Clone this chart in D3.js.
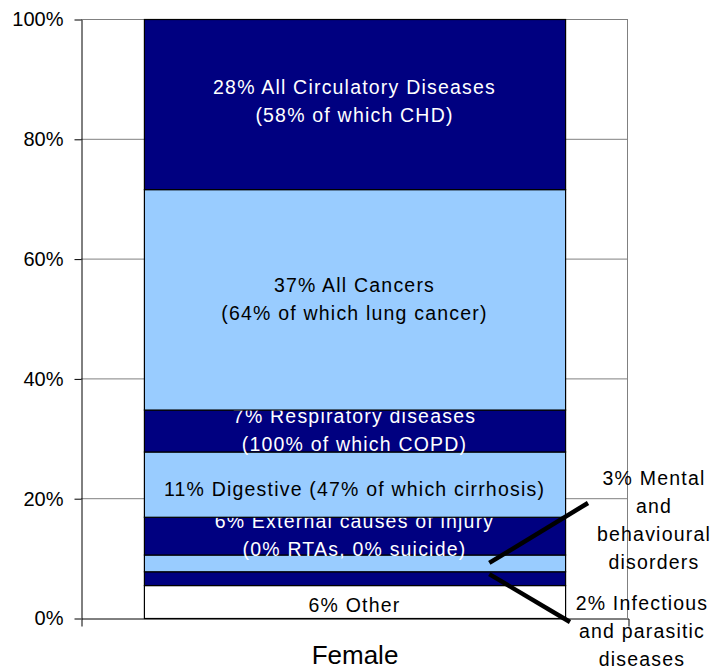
<!DOCTYPE html>
<html>
<head>
<meta charset="utf-8">
<script src="https://cdn.jsdelivr.net/npm/d3@7"></script>
<style>
  body { margin: 0; background: #fff; }
  text { font-family: "Liberation Sans", Arial, sans-serif; }
</style>
</head>
<body>
<script>
const svgWidth = 710
const svgHeight = 670

const margin = { top: 19, right: 82, bottom: 52, left: 81 }
const chartWidth = svgWidth - margin.left - margin.right
const chartHeight = svgHeight - margin.top - margin.bottom

// data, bottom segment first
const categories = ["Female"]
const causes = ["Other", "Infectious", "Mental", "External", "Digestive", "Respiratory", "Cancers", "Circulatory"]
const shares = [5.5, 2.3, 2.8, 6.3, 10.9, 7.0, 36.8, 28.4]
const insideLabels = [
  ["6% Other"],
  [],
  [],
  ["6% External causes of injury", "(0% RTAs, 0% suicide)"],
  ["11% Digestive (47% of which cirrhosis)"],
  ["7% Respiratory diseases", "(100% of which COPD)"],
  ["37% All Cancers", "(64% of which lung cancer)"],
  ["28% All Circulatory Diseases", "(58% of which CHD)"]
]
const mentalLabel = ["3% Mental", "and", "behavioural", "disorders"]
const infectiousLabel = ["2% Infectious", "and parasitic", "diseases"]
const yTicks = [0, 20, 40, 60, 80, 100]

const navy = "#000080"
const light = "#99ccff"
const fills = ["#ffffff", navy, light, navy, light, navy, light, navy]
const textFills = ["#000", "#fff", "#000", "#fff", "#000", "#fff", "#000", "#fff"]
// small vertical nudges of the label blocks, in px
const labelNudge = [3, 0, 0, -1, 5, -1, 0, -3]

const svg = d3.select("body").append("svg")
    .attr("width", svgWidth)
    .attr("height", svgHeight)

const chartG = svg.append("g")
    .attr("transform", `translate(${margin.left}, ${margin.top})`)

const y = d3.scaleLinear()
    .domain([0, 100])
    .range([chartHeight, 0])

const x = d3.scaleBand()
    .domain(categories)
    .range([0, chartWidth])
    .paddingInner(0.23)
    .paddingOuter(0.115)

// gridlines
chartG.append("g")
  .selectAll("line")
  .data(yTicks.filter(d => d > 0))
  .enter()
  .append("line")
    .attr("x1", 0)
    .attr("x2", chartWidth)
    .attr("y1", d => y(d) + 0.5)
    .attr("y2", d => y(d) + 0.5)
    .attr("stroke", "#808080")

chartG.append("line")
    .attr("x1", chartWidth - 0.5)
    .attr("x2", chartWidth - 0.5)
    .attr("y1", 0)
    .attr("y2", chartHeight)
    .attr("stroke", "#808080")

// stacked segments
const row = {}
causes.forEach((c, i) => row[c] = shares[i])
const series = d3.stack().keys(causes)([Object.assign({ cat: categories[0] }, row)])

const segs = chartG.selectAll(".seg")
  .data(series)
  .enter()
  .append("g")
    .attr("class", "seg")

segs.append("rect")
    .attr("x", x("Female") + 0.5)
    .attr("width", x.bandwidth())
    .attr("y", d => y(d[0][1]) + 0.5)
    .attr("height", d => y(d[0][0]) - y(d[0][1]))
    .attr("fill", (d, i) => fills[i])
    .attr("stroke", "#000")
    .attr("stroke-width", 1.2)

const lineGap = 28
segs.each(function(d, i) {
  const lines = insideLabels[i]
  const mid = y((d[0][0] + d[0][1]) / 2) + labelNudge[i]
  d3.select(this).selectAll("text")
    .data(lines)
    .enter()
    .append("text")
      .attr("x", x("Female") + x.bandwidth() / 2)
      .attr("y", (t, j) => mid + (j - (lines.length - 1) / 2) * lineGap)
      .attr("dy", "0.36em")
      .attr("text-anchor", "middle")
      .attr("font-size", 19.5)
      .attr("letter-spacing", 1.2)
      .attr("fill", textFills[i])
      .text(t => t)
})

// axes
const yAxis = d3.axisLeft(y)
    .tickValues(yTicks)
    .tickFormat(d => d + "%")
    .tickSizeInner(7)
    .tickSizeOuter(0)
    .tickPadding(11)

const yAxisG = chartG.append("g")
    .attr("transform", "translate(0.5, 0.5)")
    .call(yAxis)
yAxisG.selectAll("text")
    .attr("font-size", 20)
    .attr("fill", "#000")
    .attr("font-family", "Liberation Sans, Arial, sans-serif")

const xAxis = d3.axisBottom(x)
    .tickSizeInner(0)
    .tickSizeOuter(8)
    .tickPadding(27)

const xAxisG = chartG.append("g")
    .attr("transform", `translate(0.5, ${chartHeight + 0.5})`)
    .call(xAxis)
xAxisG.selectAll("text")
    .attr("font-size", 26)
    .attr("fill", "#000")
    .attr("font-family", "Liberation Sans, Arial, sans-serif")

// leader lines and outside labels
const segMid = i => y((series[i][0][0] + series[i][0][1]) / 2)
const leaderX = x("Female") + x.bandwidth() * 0.82

chartG.append("line")
    .attr("x1", leaderX)
    .attr("y1", segMid(2))
    .attr("x2", 507)
    .attr("y2", 484)
    .attr("stroke", "#000")
    .attr("stroke-width", 4.5)

chartG.append("line")
    .attr("x1", leaderX)
    .attr("y1", segMid(1) - 4)
    .attr("x2", 489)
    .attr("y2", 603)
    .attr("stroke", "#000")
    .attr("stroke-width", 4.5)

function outsideLabel(lines, cx, top) {
  chartG.append("g").selectAll("text")
    .data(lines)
    .enter()
    .append("text")
      .attr("x", cx)
      .attr("y", (t, j) => top + j * lineGap)
      .attr("dy", "0.36em")
      .attr("text-anchor", "middle")
      .attr("font-size", 19.5)
      .attr("letter-spacing", 1.2)
      .attr("fill", "#000")
      .text(t => t)
}

outsideLabel(mentalLabel, 573, 459)
outsideLabel(infectiousLabel, 561, 584)
</script>
</body>
</html>
